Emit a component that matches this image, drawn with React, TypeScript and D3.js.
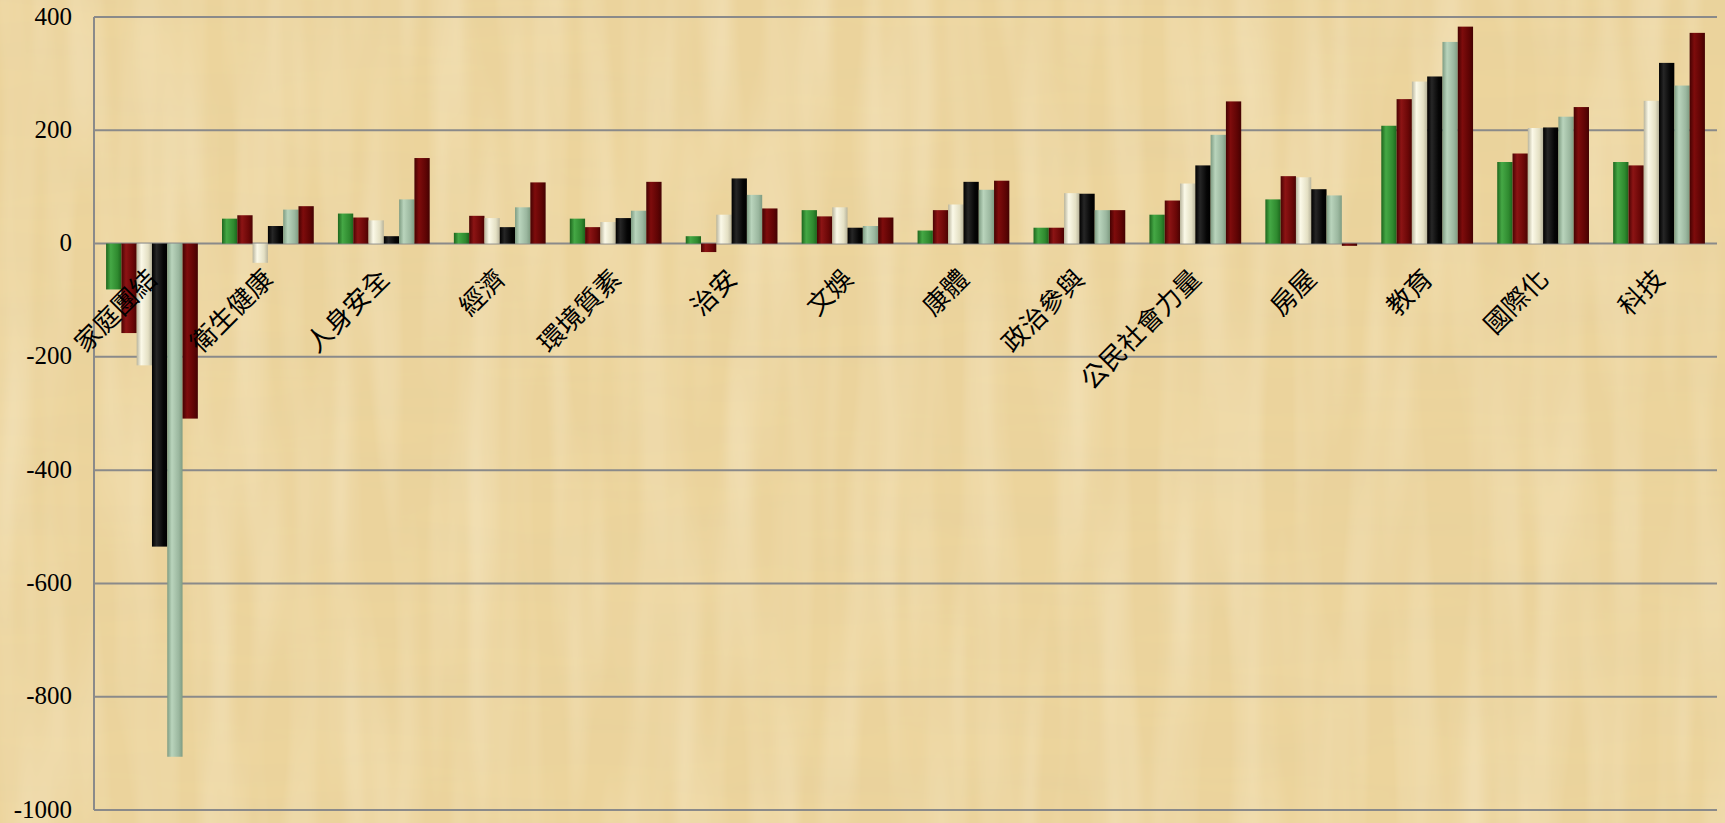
import { useEffect, useRef } from 'react';
import * as d3 from 'd3';

const categories = ['家庭團結', '衛生健康', '人身安全', '經濟', '環境質素', '治安', '文娛', '康體', '政治參與', '公民社會力量', '房屋', '教育', '國際化', '科技'];

const series1 = [-81, 44, 53, 19, 44, 13, 59, 23, 28, 51, 78, 208, 144, 144];
const series2 = [-158, 50, 46, 49, 29, -15, 48, 59, 28, 76, 119, 255, 159, 138];
const series3 = [-215, -34, 41, 45, 38, 51, 64, 69, 89, 106, 117, 286, 204, 252];
const series4 = [-535, 31, 13, 29, 45, 115, 28, 109, 88, 138, 96, 295, 205, 319];
const series5 = [-906, 60, 78, 64, 58, 86, 31, 95, 59, 192, 85, 356, 224, 279];
const series6 = [-309, 66, 151, 108, 109, 62, 46, 111, 59, 251, -4, 383, 241, 372];

const seriesKeys = ['s1', 's2', 's3', 's4', 's5', 's6'];
const seriesValues = [series1, series2, series3, series4, series5, series6];
const yTicks = [-1000, -800, -600, -400, -200, 0, 200, 400];

// dark edge / highlight / mid colours for the cylinder-like shading
const barColors = [
  ['#1d661d', '#45a845', '#2f8a2f'],
  ['#4a0303', '#8c1414', '#6a0707'],
  ['#b8b49c', '#fbf9e8', '#e4e0c4'],
  ['#000000', '#262626', '#050505'],
  ['#7e9c82', '#b9d4bc', '#9bb79f'],
  ['#440202', '#7e0c0c', '#5e0404'],
];

function App() {
  const svgRef = useRef<SVGSVGElement>(null);

  useEffect(() => {
    if (!svgRef.current) return;
    const width = 1725;
    const height = 823;
    const margin = { top: 17, right: 8, bottom: 13, left: 94 };

    const svg = d3.select(svgRef.current);
    svg.selectAll('*').remove();
    svg.attr('width', width).attr('height', height);

    const defs = svg.append('defs');

    // papyrus-ish background texture
    const filt = defs.append('filter').attr('id', 'paper').attr('x', 0).attr('y', 0).attr('width', '100%').attr('height', '100%');
    filt.append('feTurbulence')
      .attr('type', 'fractalNoise')
      .attr('baseFrequency', '0.004 0.03')
      .attr('numOctaves', 3)
      .attr('seed', 7)
      .attr('result', 'noise');
    filt.append('feColorMatrix')
      .attr('in', 'noise')
      .attr('type', 'matrix')
      .attr('values', '0 0 0 0 0.78  0 0 0 0 0.62  0 0 0 0 0.33  0 0 0 0.6 -0.18');

    const filt2 = defs.append('filter').attr('id', 'paper2').attr('x', 0).attr('y', 0).attr('width', '100%').attr('height', '100%');
    filt2.append('feTurbulence')
      .attr('type', 'fractalNoise')
      .attr('baseFrequency', '0.03 0.003')
      .attr('numOctaves', 2)
      .attr('seed', 3)
      .attr('result', 'noise');
    filt2.append('feColorMatrix')
      .attr('in', 'noise')
      .attr('type', 'matrix')
      .attr('values', '0 0 0 0 0.99  0 0 0 0 0.93  0 0 0 0 0.78  0 0 0 0.6 -0.22');

    svg.append('rect').attr('width', width).attr('height', height).attr('fill', '#ecd49c');
    svg.append('rect').attr('width', width).attr('height', height).attr('filter', 'url(#paper)');
    svg.append('rect').attr('width', width).attr('height', height).attr('filter', 'url(#paper2)');

    barColors.forEach((c, i) => {
      const g = defs.append('linearGradient').attr('id', `bar${i}`).attr('x1', '0%').attr('x2', '100%');
      g.append('stop').attr('offset', '0%').attr('stop-color', c[0]);
      g.append('stop').attr('offset', '30%').attr('stop-color', c[1]);
      g.append('stop').attr('offset', '75%').attr('stop-color', c[2]);
      g.append('stop').attr('offset', '100%').attr('stop-color', c[0]);
    });

    const x0 = d3.scaleBand<string>()
      .domain(categories)
      .range([margin.left, width - margin.right])
      .padding(0);

    const x1 = d3.scaleBand<string>()
      .domain(seriesKeys)
      .range([0, x0.bandwidth()])
      .paddingInner(0)
      .paddingOuter(0.79);

    const y = d3.scaleLinear()
      .domain([-1000, 400])
      .range([height - margin.bottom, margin.top]);

    // gridlines
    svg.append('g')
      .selectAll('line')
      .data(yTicks)
      .join('line')
      .attr('x1', margin.left)
      .attr('x2', width - margin.right)
      .attr('y1', d => y(d))
      .attr('y2', d => y(d))
      .attr('stroke', '#8a8a8a')
      .attr('stroke-width', 2);

    svg.append('line')
      .attr('x1', margin.left)
      .attr('x2', margin.left)
      .attr('y1', y(400))
      .attr('y2', y(-1000))
      .attr('stroke', '#8a8a8a')
      .attr('stroke-width', 2);

    // y tick labels
    svg.append('g')
      .selectAll('text')
      .data(yTicks)
      .join('text')
      .attr('x', 72)
      .attr('y', d => y(d))
      .attr('dy', '0.3em')
      .attr('text-anchor', 'end')
      .attr('font-family', '"Liberation Serif", "DejaVu Serif", serif')
      .attr('font-size', '25px')
      .attr('fill', '#000')
      .text(d => `${d}`);

    // bars
    const groups = svg.append('g')
      .selectAll('g')
      .data(categories)
      .join('g')
      .attr('transform', d => `translate(${x0(d)},0)`);

    groups.selectAll('rect')
      .data((d, ci) => seriesKeys.map((k, si) => ({ key: k, si, value: seriesValues[si][ci] })))
      .join('rect')
      .attr('x', d => x1(d.key) as number)
      .attr('width', x1.bandwidth())
      .attr('y', d => y(Math.max(0, d.value)))
      .attr('height', d => Math.abs(y(d.value) - y(0)))
      .attr('fill', d => `url(#bar${d.si})`);

    // category labels
    svg.append('g')
      .selectAll('text')
      .data(categories)
      .join('text')
      .attr('transform', d => `translate(${(x0(d) as number) + x0.bandwidth() / 2 + 7},${y(0) + 37}) rotate(-45)`)
      .attr('text-anchor', 'end')
      .attr('font-family', '"Noto Sans CJK TC", "Noto Sans CJK SC", sans-serif')
      .attr('font-size', '26px')
      .attr('fill', '#000')
      .text(d => d);
  }, []);

  return (
    <div style={{ position: 'absolute', left: 0, top: 0 }}>
      <svg ref={svgRef} style={{ display: 'block' }}></svg>
    </div>
  );
}

export default App;
